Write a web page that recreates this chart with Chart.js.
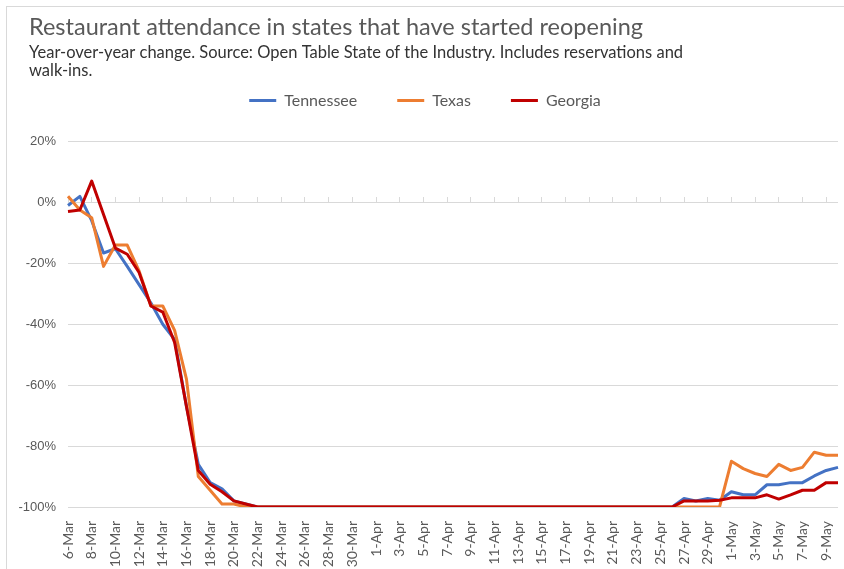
<!DOCTYPE html>
<html>
<head>
<meta charset="utf-8">
<script src="https://cdn.jsdelivr.net/npm/chart.js@4/dist/chart.umd.min.js"></script>
<style>
  html, body { margin: 0; padding: 0; background: #ffffff; }
  #wrap { position: relative; width: 844px; height: 569px; overflow: hidden; }
  #frame { position: absolute; left: 6px; top: 6px; width: 900px; height: 700px;
           border-left: 1px solid #d9d9d9; border-top: 1px solid #d9d9d9; }
  canvas { position: absolute; left: 0; top: 0; }
</style>
</head>
<body>
<div id="wrap">
  <div id="frame"></div>
  <canvas id="c" width="844" height="569"></canvas>
</div>
<script>
const titleText = 'Restaurant attendance in states that have started reopening';
const subtitleLines = ['Year-over-year change. Source: Open Table State of the Industry. Includes reservations and', 'walk-ins.'];

const categories = [
  '6-Mar','7-Mar','8-Mar','9-Mar','10-Mar','11-Mar','12-Mar','13-Mar','14-Mar','15-Mar',
  '16-Mar','17-Mar','18-Mar','19-Mar','20-Mar','21-Mar','22-Mar','23-Mar','24-Mar','25-Mar',
  '26-Mar','27-Mar','28-Mar','29-Mar','30-Mar','31-Mar','1-Apr','2-Apr','3-Apr','4-Apr',
  '5-Apr','6-Apr','7-Apr','8-Apr','9-Apr','10-Apr','11-Apr','12-Apr','13-Apr','14-Apr',
  '15-Apr','16-Apr','17-Apr','18-Apr','19-Apr','20-Apr','21-Apr','22-Apr','23-Apr','24-Apr',
  '25-Apr','26-Apr','27-Apr','28-Apr','29-Apr','30-Apr','1-May','2-May','3-May','4-May',
  '5-May','6-May','7-May','8-May','9-May','10-May'
];

const tennessee = [
  -1, 2, -6, -16.6, -15.2, -21, -27, -33, -40, -45,
  -67, -86, -92, -94, -98, -99, -100, -100, -100, -100,
  -100, -100, -100, -100, -100, -100, -100, -100, -100, -100,
  -100, -100, -100, -100, -100, -100, -100, -100, -100, -100,
  -100, -100, -100, -100, -100, -100, -100, -100, -100, -100,
  -100, -100, -97.2, -98, -97.2, -97.8, -95, -96, -96, -92.7,
  -92.7, -92, -92, -89.8, -88, -87
];

const texas = [
  2, -2.5, -5, -21, -14, -14, -22.5, -34, -34, -42,
  -58, -90, -94.5, -99, -99, -100, -100, -100, -100, -100,
  -100, -100, -100, -100, -100, -100, -100, -100, -100, -100,
  -100, -100, -100, -100, -100, -100, -100, -100, -100, -100,
  -100, -100, -100, -100, -100, -100, -100, -100, -100, -100,
  -100, -100, -100, -100, -100, -100, -85, -87.4, -89, -90,
  -86, -88, -87, -82, -83, -83
];

const georgia = [
  -3, -2.5, 7, -4, -15, -17, -23, -34, -36, -46,
  -67, -88, -92.5, -95, -98, -99, -100, -100, -100, -100,
  -100, -100, -100, -100, -100, -100, -100, -100, -100, -100,
  -100, -100, -100, -100, -100, -100, -100, -100, -100, -100,
  -100, -100, -100, -100, -100, -100, -100, -100, -100, -100,
  -100, -100, -98, -98, -98, -97.8, -97, -97, -97, -96,
  -97.4, -96, -94.5, -94.5, -92, -92
];

const yTicks = [-100, -80, -60, -40, -20, 0, 20];

const seriesNames = ['Tennessee', 'Texas', 'Georgia'];
const seriesColors = ['#4472C4', '#ED7D31', '#C00000'];

const gridColor = '#d9d9d9';
const textColor = '#595959';

function mk(i, data, order) {
  return {
    label: seriesNames[i], data: data,
    borderColor: seriesColors[i], backgroundColor: seriesColors[i],
    borderWidth: 3, pointRadius: 0, pointHoverRadius: 0, tension: 0,
    borderJoinStyle: 'round', order: order, fill: false
  };
}

// shift the title and subtitle blocks to the right so they start at the frame's text margin
const titleIndent = {
  id: 'titleIndent',
  afterLayout(chart) {
    chart.boxes.forEach(b => {
      if (b.options && b.options.text !== undefined && !b.options.labels && b.position === 'top') {
        b.left += 17; b.right += 17;
      }
    });
  }
};

new Chart(document.getElementById('c'), {
  type: 'line',
  data: {
    labels: categories,
    datasets: [mk(0, tennessee, 2), mk(1, texas, 1), mk(2, georgia, 0)]
  },
  plugins: [titleIndent],
  options: {
    responsive: false,
    animation: false,
    layout: { padding: { top: 6, left: 12, right: 6, bottom: 0 } },
    plugins: {
      title: {
        display: true, text: titleText, align: 'start', color: textColor,
        font: { family: 'Lato', size: 23.5, weight: 'normal', lineHeight: 1.15 },
        padding: { top: 8, bottom: 0 }
      },
      subtitle: {
        display: true, text: subtitleLines, align: 'start', color: '#333333',
        font: { family: 'Lato', size: 16.5, weight: 'normal', lineHeight: 1.0909 },
        padding: { top: 3, bottom: -27.5 }
      },
      legend: {
        display: true, position: 'top', align: 'center',
        labels: {
          boxWidth: 27, boxHeight: 3, padding: 40, color: textColor,
          font: { family: 'Lato', size: 16 },
          sort: (a, b) => a.datasetIndex - b.datasetIndex,
          generateLabels: (chart) => {
            const items = Chart.defaults.plugins.legend.labels.generateLabels(chart);
            items.forEach(it => { it.lineWidth = 0; it.fillStyle = it.strokeStyle; });
            return items;
          }
        }
      },
      tooltip: { enabled: false }
    },
    scales: {
      x: {
        type: 'category', position: 'bottom',
        grid: { display: false },
        border: { display: false },
        ticks: {
          autoSkip: false, maxRotation: 90, minRotation: 90, padding: 6,
          color: textColor, font: { family: 'Lato', size: 14 },
          callback: (v, i) => (i % 2 === 0 ? categories[i] : '')
        },
        afterFit: (s) => { s.height = 62; s.paddingRight = 0; s.paddingLeft = 0; }
      },
      xSpacer: {
        type: 'category', position: 'top', display: true,
        grid: { display: false }, border: { display: false },
        ticks: { display: false },
        afterFit: (s) => { s.height = 23; s.paddingRight = 0; s.paddingLeft = 0; }
      },
      xMarks: {
        type: 'category', position: { y: 0 }, display: true,
        border: { display: false },
        ticks: { display: false },
        grid: {
          drawOnChartArea: false, drawTicks: true, tickLength: -5, lineWidth: 1,
          color: (ctx) => (ctx.index % 2 === 0 ? gridColor : 'rgba(0,0,0,0)')
        },
        afterFit: (s) => { s.paddingRight = 0; s.paddingLeft = 0; }
      },
      y: {
        min: -100, max: 20,
        afterBuildTicks: (s) => { s.ticks = yTicks.map(v => ({ value: v })); },
        grid: { color: gridColor, lineWidth: 1, drawTicks: false },
        border: { display: false },
        ticks: {
          padding: 12, color: textColor,
          font: { family: 'Liberation Sans', size: 13 },
          callback: (v) => v + '%'
        },
        afterFit: (s) => { s.width = 56; }
      }
    }
  }
});
</script>
</body>
</html>
